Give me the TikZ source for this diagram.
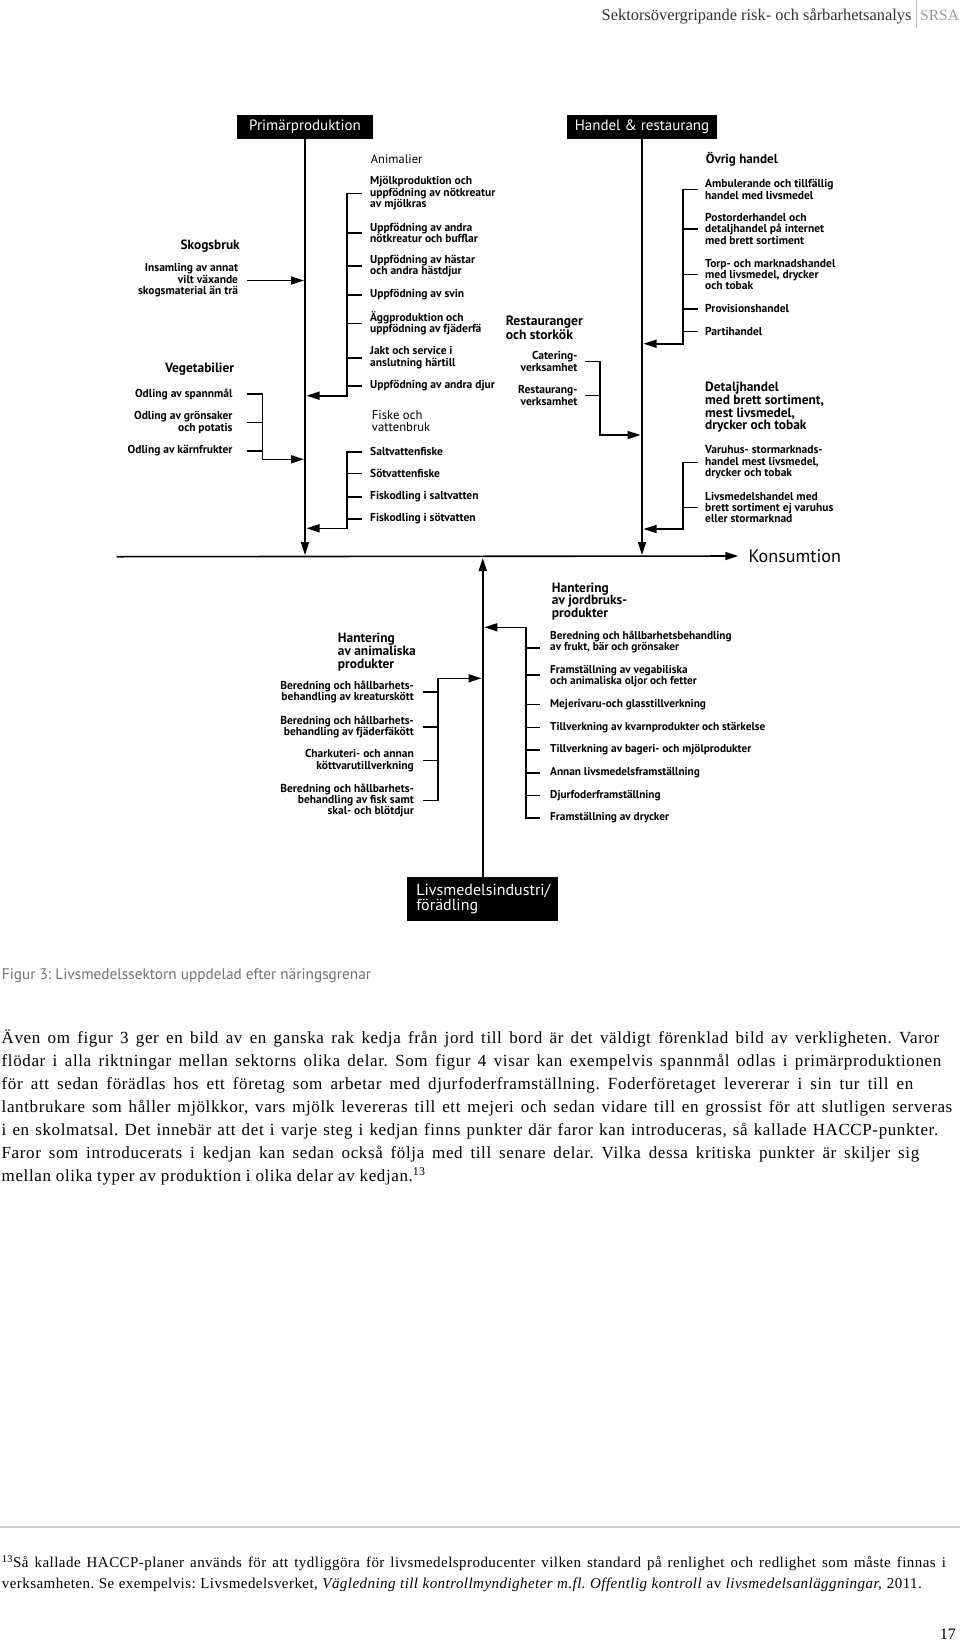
\documentclass[tikz,border=0pt]{standalone}
\usepackage{fontspec}
\setmainfont{Liberation Serif}
\newfontfamily\dsans{PT Sans}
\newfontfamily\bodyfont[LetterSpace=3.6]{Liberation Serif}
\newfontfamily\fnfont[LetterSpace=3]{Liberation Serif}
\usetikzlibrary{arrows.meta}
\frenchspacing
\begin{document}
\frenchspacing
\begin{tikzpicture}[x=1pt,y=-1pt,
  conn/.style={line width=1.6pt},
  arr/.style={conn,-{Triangle[length=13pt,width=8pt]}},
  blackbox/.style={fill=black,text=white,inner sep=0pt,font=\dsans\fontsize{15}{15.6}\selectfont},
  itm/.style={inner sep=0pt,font=\dsans\bfseries\fontsize{11.5}{11.4}\selectfont,align=left,anchor=west},
  itmr/.style={itm,align=right,anchor=east},
  jitm/.style={itm,font=\dsans\bfseries\fontsize{11.3}{11}\selectfont},
  ttl/.style={inner sep=0pt,font=\dsans\bfseries\fontsize{13.4}{12.7}\selectfont,align=left,anchor=west},
  ttlr/.style={ttl,align=right,anchor=east},
  rtl/.style={inner sep=0pt,font=\dsans\fontsize{12.7}{12.3}\selectfont,align=left,anchor=west},
  body/.style={inner sep=0pt,anchor=base west,font=\bodyfont\fontsize{17}{20}\selectfont},
  fn/.style={inner sep=0pt,anchor=base west,font=\fnfont\fontsize{15}{18}\selectfont},
]
\useasboundingbox[fill=white] (0,0) rectangle (960,1641);
% ---------- header ----------
\node[inner sep=0pt,anchor=base east,text=black!80,font=\fontsize{16.4}{18}\selectfont] (hd) at (911.7,20) {Sektorsövergripande risk- och sårbarhetsanalys};
\draw[black!25,line width=1pt] (916,0) -- (916,28);
\node[inner sep=0pt,anchor=base west,text=black!40,font=\fontsize{15.5}{18}\selectfont] (srsa) at (920,20) {SRSA};
% ---------- main boxes ----------
\node[blackbox,minimum width=136.6pt,minimum height=24pt] (P) at (305,127) {Primärproduktion};
\node[blackbox,minimum width=150.7pt,minimum height=24pt] (H) at (642,127) {Handel \& restaurang};
\node[blackbox,font=\dsans\fontsize{16}{15.6}\selectfont,minimum width=151pt,minimum height=44.3pt,text width=133pt,inner xsep=9pt,align=left] (L) at (482.8,898.9) {Livsmedelsindustri/\\förädling};
\node[inner sep=0pt,anchor=west,font=\dsans\fontsize{18.1}{20}\selectfont] (K) at (748.3,556) {Konsumtion};
\coordinate (hl) at (116.7,556.7);
\draw[arr,shorten >=10pt] (hl) -- (K.west);
\draw[arr,shorten >=1.7pt] (P.south) -- (P.south |- hl);
\draw[arr,shorten >=1.7pt] (H.south) -- (H.south |- hl);
\draw[arr,shorten >=1.3pt] (L.north) -- (L.north |- hl);
% ---------- Skogsbruk ----------
\node[ttlr] (sk) at (240,245.7) {Skogsbruk};
\node[itmr] (sk1) at (238.3,280.5) {Insamling av annat\\vilt växande\\skogsmaterial än trä};
\draw[arr,shorten >=1pt] ([xshift=8.4pt]sk1.east) -- (sk1.east -| P.south);
% ---------- Vegetabilier ----------
\node[ttlr] (vg) at (234.3,369.3) {Vegetabilier};
\node[itmr] (vg1) at (232.7,394) {Odling av spannmål};
\node[itmr] (vg2) at (232.7,422.5) {Odling av grönsaker\\och potatis};
\node[itmr] (vg3) at (232.7,450.7) {Odling av kärnfrukter};
\coordinate (vgb) at (262.3,459.3);
\draw[arr,shorten >=1pt] ([xshift=14pt]vg1.east) -| (vgb) -- (vgb -| P.south);
\draw[conn] ([xshift=14pt]vg2.east) -- (vg2.east -| vgb);
\draw[conn] ([xshift=14pt]vg3.east) -- (vg3.east -| vgb);
% ---------- Animalier ----------
\node[rtl,font=\dsans\fontsize{12.5}{12}\selectfont] (an) at (370.7,159.3) {Animalier};
\node[itm] (an1) at (370,193.3) {Mjölkproduktion och\\uppfödning av nötkreatur\\av mjölkras};
\node[itm] (an2) at (370,232.7) {Uppfödning av andra\\nötkreatur och bufflar};
\node[itm] (an3) at (370,266) {Uppfödning av hästar\\och andra hästdjur};
\node[itm] (an4) at (370,295) {Uppfödning av svin};
\node[itm] (an5) at (370,323.3) {Äggproduktion och\\uppfödning av fjäderfä};
\node[itm] (an6) at (370,357.7) {Jakt och service i\\anslutning härtill};
\node[itm] (an7) at (370,385.7) {Uppfödning av andra djur};
\coordinate (anb) at (346.7,395.7);
\draw[arr,shorten >=1.5pt] ([xshift=-8.3pt]an1.west) -| (anb) -- (anb -| P.south);
\foreach \n in {an2,an3,an4,an5,an6,an7}{\draw[conn] ([xshift=-8.3pt]\n.west) -- (\n.west -| anb);}
% ---------- Fiske ----------
\node[rtl] (fi) at (371.7,421.2) {Fiske och\\vattenbruk};
\node[itm] (fi1) at (370,451.7) {Saltvattenfiske};
\node[itm] (fi2) at (370,473.3) {Sötvattenfiske};
\node[itm] (fi3) at (370,496.7) {Fiskodling i saltvatten};
\node[itm] (fi4) at (370,519) {Fiskodling i sötvatten};
\coordinate (fib) at (346.7,528.3);
\draw[arr,shorten >=1.5pt] ([xshift=-8.3pt]fi1.west) -| (fib) -- (fib -| P.south);
\foreach \n in {fi2,fi3,fi4}{\draw[conn] ([xshift=-8.3pt]\n.west) -- (\n.west -| fib);}
% ---------- Övrig handel ----------
\node[ttl,font=\dsans\bfseries\fontsize{13.1}{12.5}\selectfont] (ov) at (705.7,159.3) {Övrig handel};
\node[itm] (ov1) at (705,189.3) {Ambulerande och tillfällig\\handel med livsmedel};
\node[itm] (ov2) at (705,228.7) {Postorderhandel och\\detaljhandel på internet\\med brett sortiment};
\node[itm] (ov3) at (705,274.5) {Torp- och marknadshandel\\med livsmedel, drycker\\och tobak};
\node[itm] (ov4) at (705,308.7) {Provisionshandel};
\node[itm] (ov5) at (705,331.3) {Partihandel};
\coordinate (ovb) at (682.7,343.7);
\draw[arr,shorten >=1.5pt] ([xshift=-6.7pt]ov1.west) -| (ovb) -- (ovb -| H.south);
\foreach \n in {ov2,ov3,ov4,ov5}{\draw[conn] ([xshift=-6.7pt]\n.west) -- (\n.west -| ovb);}
% ---------- Restauranger ----------
\node[ttl,font=\dsans\bfseries\fontsize{13.6}{12.5}\selectfont] (re) at (505.7,328) {Restauranger\\och storkök};
\node[itmr] (re1) at (577.7,361.5) {Catering-\\verksamhet};
\node[itmr] (re2) at (577.7,395.5) {Restaurang-\\verksamhet};
\coordinate (reb) at (600,435);
\draw[arr,shorten >=1.5pt] ([xshift=7.6pt]re1.east) -| (reb) -- (reb -| H.south);
\draw[conn] ([xshift=7.6pt]re2.east) -- (re2.east -| reb);
% ---------- Detaljhandel ----------
\node[ttl] (de) at (705,407.5) {Detaljhandel\\med brett sortiment,\\mest livsmedel,\\drycker och tobak};
\node[itm] (de1) at (705,462.5) {Varuhus- stormarknads-\\handel mest livsmedel,\\drycker och tobak};
\node[itm] (de2) at (705,507.5) {Livsmedelshandel med\\brett sortiment ej varuhus\\eller stormarknad};
\coordinate (deb) at (682.7,529);
\draw[arr,shorten >=1.5pt] ([xshift=-6.7pt]de1.west) -| (deb) -- (deb -| H.south);
\draw[conn] ([xshift=-6.7pt]de2.west) -- (de2.west -| deb);
% ---------- Hantering av animaliska produkter ----------
\node[ttl] (ha) at (337.7,652.2) {Hantering\\av animaliska\\produkter};
\node[itmr] (ha1) at (414,692) {Beredning och hållbarhets-\\behandling av kreaturskött};
\node[itmr] (ha2) at (414,727) {Beredning och hållbarhets-\\behandling av fjäderfäkött};
\node[itmr] (ha3) at (414,760.5) {Charkuteri- och annan\\köttvarutillverkning};
\node[itmr] (ha4) at (414,800.5) {Beredning och hållbarhets-\\behandling av fisk samt\\skal- och blötdjur};
\coordinate (hab) at (437.7,678.3);
\draw[arr,shorten >=1.3pt] ([xshift=8.7pt]ha4.east) -| (hab) -- (hab -| L.north);
\foreach \n in {ha1,ha2,ha3}{\draw[conn] ([xshift=8.7pt]\n.east) -- (\n.east -| hab);}
% ---------- Hantering av jordbruksprodukter ----------
\node[ttl] (hj) at (551.7,601.3) {Hantering\\av jordbruks-\\produkter};
\node[jitm] (hj1) at (550,642.2) {Beredning och hållbarhetsbehandling\\av frukt, bär och grönsaker};
\node[jitm] (hj2) at (550,676.5) {Framställning av vegabiliska\\och animaliska oljor och fetter};
\node[jitm] (hj3) at (550,704.3) {Mejerivaru-och glasstillverkning};
\node[jitm] (hj4) at (550,727.3) {Tillverkning av kvarnprodukter och stärkelse};
\node[jitm] (hj5) at (550,750) {Tillverkning av bageri- och mjölprodukter};
\node[jitm] (hj6) at (550,772.7) {Annan livsmedelsframställning};
\node[jitm] (hj7) at (550,795.3) {Djurfoderframställning};
\node[jitm] (hj8) at (550,817.7) {Framställning av drycker};
\coordinate (hjb) at (526,627.3);
\draw[arr,shorten >=1.5pt] ([xshift=-10pt]hj8.west) -| (hjb) -- (hjb -| L.north);
\path (hj1.west) ++(-10,5.5) coordinate (hj1t);
\path (hj2.west) ++(-10,-1.5) coordinate (hj2t);
\draw[conn] (hj1t) -- (hj1t -| hjb);
\draw[conn] (hj2t) -- (hj2t -| hjb);
\foreach \n in {hj3,hj4,hj5,hj6,hj7}{\draw[conn] ([xshift=-10pt]\n.west) -- (\n.west -| hjb);}
% ---------- caption ----------
\node[inner sep=0pt,anchor=west,text=black!55,font=\dsans\fontsize{15.3}{16}\selectfont] (cap) at (1.7,976) {Figur 3: Livsmedelssektorn uppdelad efter näringsgrenar};
% ---------- body text ----------
\node[body] (b1) at (1.5,1043.3) {\makebox[937.5pt][s]{Även om figur 3 ger en bild av en ganska rak kedja från jord till bord är det väldigt förenklad bild av verkligheten. Varor}};
\node[body] (b2) at (1.5,1066.35) {\makebox[939.5pt][s]{flödar i alla riktningar mellan sektorns olika delar. Som figur 4 visar kan exempelvis spannmål odlas i primärproduktionen}};
\node[body] (b3) at (1.5,1089.4) {\makebox[911.5pt][s]{för att sedan förädlas hos ett företag som arbetar med djurfoderframställning. Foderföretaget levererar i sin tur till en}};
\node[body] (b4) at (1.5,1112.45) {\makebox[950.5pt][s]{lantbrukare som håller mjölkkor, vars mjölk levereras till ett mejeri och sedan vidare till en grossist för att slutligen serveras}};
\node[body] (b5) at (1.5,1135.5) {\makebox[936.5pt][s]{i en skolmatsal. Det innebär att det i varje steg i kedjan finns punkter där faror kan introduceras, så kallade HACCP-punkter.}};
\node[body] (b6) at (1.5,1158.55) {\makebox[917.5pt][s]{Faror som introducerats i kedjan kan sedan också följa med till senare delar. Vilka dessa kritiska punkter är skiljer sig}};
\node[body] (b7) at (1.5,1181.6) {mellan olika typer av produktion i olika delar av kedjan.\textsuperscript{13}};
% ---------- footnote ----------
\draw[black!18,line width=2pt] (0,1527) -- (960,1527);
\node[fn] (f1) at (1.7,1567.5) {\makebox[944pt][s]{\textsuperscript{13}Så kallade HACCP-planer används för att tydliggöra för livsmedelsproducenter vilken standard på renlighet och redlighet som måste finnas i}};
\node[fn] (f2) at (1.7,1588.2) {\makebox[920pt][s]{verksamheten. Se exempelvis: Livsmedelsverket, \textit{Vägledning till kontrollmyndigheter m.fl. Offentlig kontroll} av \textit{livsmedelsanläggningar,} 2011.}};
\node[inner sep=0pt,anchor=base east,font=\fontsize{16}{18}\selectfont] (pg) at (956,1639) {17};
\end{tikzpicture}
\end{document}
